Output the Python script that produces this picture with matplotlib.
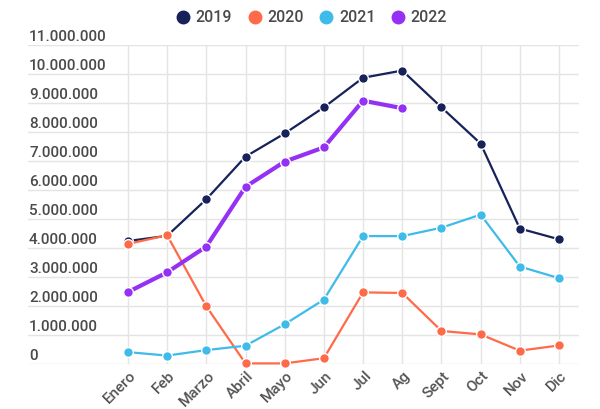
import matplotlib
matplotlib.use("Agg")
import matplotlib.pyplot as plt
from matplotlib.lines import Line2D
import matplotlib.transforms as mtransforms

plt.rcParams['font.family'] = ['Roboto', 'DejaVu Sans']

meses = ["Enero", "Feb", "Marzo", "Abril", "Mayo", "Jun", "Jul", "Ag",
         "Sept", "Oct", "Nov", "Dic"]
v2019 = [4.24, 4.42, 5.68, 7.15, 7.95, 8.85, 9.87, 10.12, 8.85, 7.60, 4.67, 4.30]
v2020 = [4.14, 4.44, 1.99, 0.02, 0.02, 0.20, 2.47, 2.45, 1.14, 1.02, 0.46, 0.64]
v2021 = [0.41, 0.29, 0.48, 0.63, 1.37, 2.22, 4.41, 4.41, 4.70, 5.15, 3.36, 2.96]
v2022 = [2.48, 3.16, 4.05, 6.11, 6.98, 7.47, 9.08, 8.82]
series = [("2019", v2019, "#17215a", 1.6),
          ("2020", v2020, "#ff6a48", 1.6),
          ("2021", v2021, "#3fbbea", 1.6),
          ("2022", v2022, "#9431f5", 3.0)]
yticks = list(range(0, 12))

fig = plt.figure(figsize=(6, 4.09), dpi=100)
ax = fig.add_axes([28/600, 1-364/409, (579-28)/600, (364-45)/409])

for name, vals, color, lw in series:
    x = list(range(len(vals)))
    y = [v * 1e6 for v in vals]
    ax.plot(x, y, color=color, lw=lw, marker="o", markersize=7,
            markeredgecolor="white", markeredgewidth=1.0, clip_on=False, zorder=3)

ax.set_xlim(-2.55, 11.51)
ax.set_ylim(0, 11e6)
ax.set_xticks(range(len(meses)))
ax.set_xticklabels(meses, rotation=45, ha="right", va="center", rotation_mode="anchor",
                   fontsize=11, color="#555555", fontweight="medium")
ax.set_yticks([t * 1e6 for t in yticks])
ax.set_yticklabels([])
ax.tick_params(length=0)
ax.tick_params(axis="x", pad=7)
shift = mtransforms.ScaledTranslation(6/100, 0, fig.dpi_scale_trans)
for lab in ax.get_xticklabels():
    lab.set_transform(lab.get_transform() + shift)
ax.grid(True, color="#e4e4e4", lw=1)
ax.set_axisbelow(True)
for s in ax.spines.values():
    s.set_visible(False)

trans = mtransforms.blended_transform_factory(fig.transFigure, ax.transData)
offset = mtransforms.ScaledTranslation(0, 4/100, fig.dpi_scale_trans)
for t in yticks:
    label = "0" if t == 0 else f"{t * 1000000:,}".replace(",", ".")
    ax.text(29/600, t * 1e6, label, transform=trans + offset, ha="left", va="baseline",
            fontsize=11, color="#4a4a4a", fontweight="medium")

handles = [Line2D([], [], ls="none", marker="o", markersize=9, color=c)
           for _, _, c, _ in series]
fig.legend(handles, [s[0] for s in series], loc="center", bbox_to_anchor=(311/600, 1-18/409),
           ncol=4, frameon=False, labelcolor="#4a4a4a",
           prop={"size": 11.5, "weight": "medium"},
           handletextpad=0.3, columnspacing=0.9, handlelength=1.0)

fig.savefig("out.png", dpi=100)
